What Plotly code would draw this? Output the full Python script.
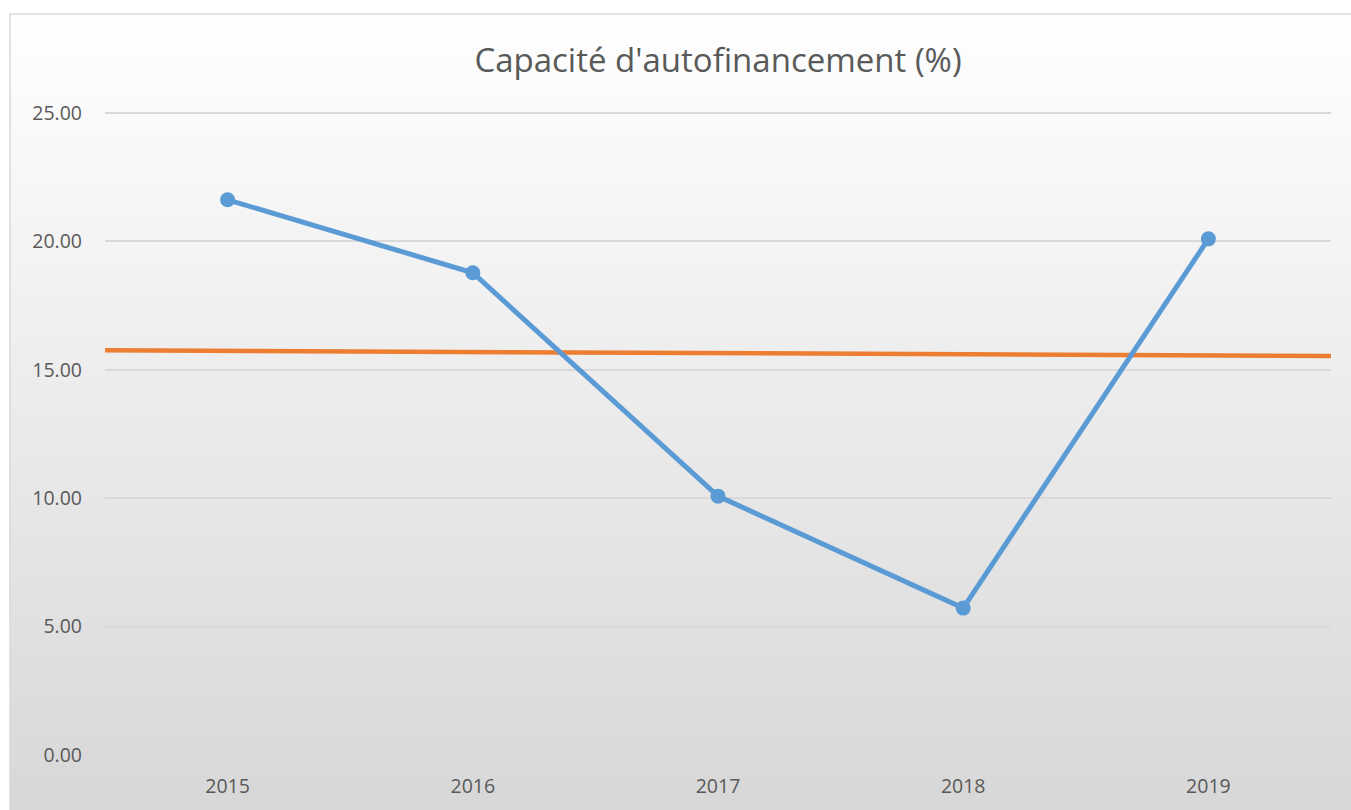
import plotly.graph_objects as go

years = ["2015", "2016", "2017", "2018", "2019"]
caf = [21.62, 18.78, 10.08, 5.72, 20.10]
ref_x = [-0.5, 4.5]
ref_y = [15.76, 15.54]
y_ticks = [0, 5, 10, 15, 20, 25]

W, H = 1351, 810
L, R, T, B = 105, 20, 112, 54
pw, ph = W - L - R, H - T - B

def px_x(X):
    return (X - L) / pw

def px_y(Y):
    return (H - B - Y) / ph

shapes = []
n = 200
top, bot = 14, 815
for i in range(n):
    y0 = top + (bot - top) * i / n
    y1 = top + (bot - top) * (i + 1) / n + 0.5
    t = (i + 0.5) / n
    c = round(255 - t * (255 - 215))
    shapes.append(dict(type="rect", xref="paper", yref="paper", layer="below",
                       x0=px_x(10), x1=px_x(1360), y0=px_y(y1), y1=px_y(y0),
                       fillcolor=f"rgb({c},{c},{c})", line=dict(width=0)))
shapes.append(dict(type="rect", xref="paper", yref="paper", layer="below",
                   x0=px_x(10), x1=px_x(1360), y0=px_y(815), y1=px_y(14),
                   fillcolor="rgba(0,0,0,0)", line=dict(color="#d9d9d9", width=1.5)))

fig = go.Figure()
fig.add_trace(go.Scatter(x=ref_x, y=ref_y, mode="lines",
                         line=dict(color="#ed7d31", width=4.5), showlegend=False,
                         hoverinfo="skip"))
fig.add_trace(go.Scatter(x=list(range(len(years))), y=caf, mode="lines+markers",
                         line=dict(color="#5b9bd5", width=5),
                         marker=dict(color="#5b9bd5", size=15), showlegend=False))

fig.update_layout(
    width=W, height=H,
    margin=dict(l=L, r=R, t=T, b=B),
    paper_bgcolor="white", plot_bgcolor="rgba(0,0,0,0)",
    shapes=shapes,
    title=dict(text="Capacité d'autofinancement (%)", x=0.5, xref="paper",
               y=1 - 60 / H, yanchor="middle",
               font=dict(family="Open Sans", size=33, color="#595959")),
    font=dict(family="Open Sans", size=19.5, color="#595959"),
    xaxis=dict(range=[-0.5, 4.5], tickmode="array", tickvals=list(range(len(years))),
               ticktext=years, showgrid=False, zeroline=False, showline=False,
               ticklabelstandoff=16, fixedrange=True),
    yaxis=dict(range=[-0.04, 25.04], tickmode="array", tickvals=y_ticks,
               ticktext=[f"{v:.2f}" for v in y_ticks], showgrid=True,
               gridcolor="#d9d9d9", gridwidth=1.5, zeroline=False, showline=False,
               ticklabelstandoff=22, fixedrange=True),
)

fig.write_html("out.html", config={"displayModeBar": False},
               post_script="document.body.style.margin='0px';")
